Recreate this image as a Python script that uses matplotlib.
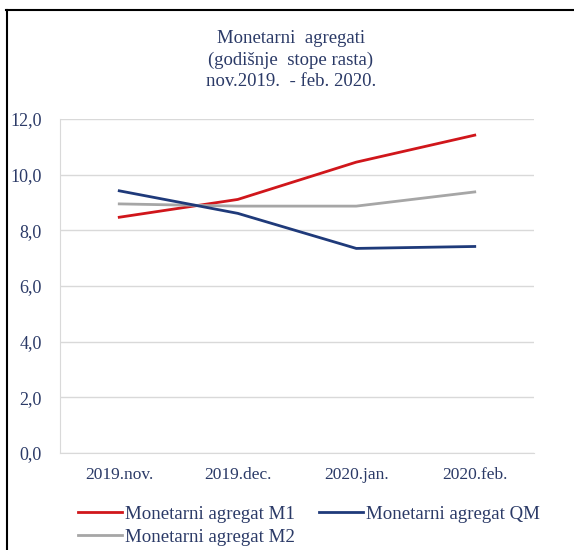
import matplotlib
matplotlib.use("Agg")
import matplotlib.pyplot as plt
from matplotlib.lines import Line2D

categories = ["2019.nov.", "2019.dec.", "2020.jan.", "2020.feb."]
m1 = [8.47, 9.11, 10.45, 11.42]
qm = [9.42, 8.61, 7.35, 7.42]
m2 = [8.95, 8.87, 8.87, 9.38]
yticks = [0, 2, 4, 6, 8, 10, 12]
ytick_labels = ["0,0", "2,0", "4,0", "6,0", "8,0", "10,0", "12,0"]

W, H = 574, 550
fig = plt.figure(figsize=(W / 100, H / 100), dpi=100)
plt.rcParams['font.family'] = ['Liberation Serif', 'DejaVu Serif']
txt = "#2B3A67"

left, right, top, bottom = 60, 534, 119, 453
ax = fig.add_axes([left / W, 1 - bottom / H, (right - left) / W, (bottom - top) / H])

x = list(range(len(categories)))
ax.plot(x, m1, color="#D0161B", lw=2, label="Monetarni agregat M1")
ax.plot(x, m2, color="#A6A6A6", lw=2, label="Monetarni agregat M2")
ax.plot(x, qm, color="#1F3A7A", lw=2, label="Monetarni agregat QM")

ax.set_xlim(-0.5, 3.5)
ax.set_ylim(0, 12)
ax.set_yticks(yticks)
ax.set_yticklabels(ytick_labels)
ax.set_xticks(x)
ax.set_xticklabels(categories)
ax.grid(axis="y", color="#D9D9D9", lw=1)
ax.set_axisbelow(True)
for s in ["top", "right"]:
    ax.spines[s].set_visible(False)
ax.spines["left"].set_color("#D9D9D9")
ax.spines["bottom"].set_color("#D9D9D9")
ax.tick_params(length=0, colors=txt)
ax.tick_params(axis="y", pad=13, labelsize=13)
ax.tick_params(axis="x", pad=10, labelsize=12.5)

fig.text(291 / W, 1 - 60 / H,
         "Monetarni  agregati\n(godišnje  stope rasta)\nnov.2019.  - feb. 2020.",
         ha="center", va="center", color=txt, fontsize=13.5, linespacing=1.3)

handles = [Line2D([], [], color="#D0161B", lw=2),
           Line2D([], [], color="#A6A6A6", lw=2),
           Line2D([], [], color="#1F3A7A", lw=2)]
labels = ["Monetarni agregat M1", "Monetarni agregat M2", "Monetarni agregat QM"]
leg = fig.legend(handles, labels, ncol=2, loc="upper left",
                 bbox_to_anchor=(69 / W, 1 - 496 / H), frameon=False,
                 fontsize=13.6, handlelength=2.3, handletextpad=0.15,
                 columnspacing=1.3, labelspacing=0.3, borderpad=0)
for t in leg.get_texts():
    t.set_color(txt)

# outer border lines (top and left)
fig.add_artist(Line2D([6 / W, 1], [1 - 10 / H, 1 - 10 / H], color="black", lw=1.5,
                      transform=fig.transFigure))
fig.add_artist(Line2D([6.5 / W, 6.5 / W], [0, 1 - 10 / H], color="black", lw=1.5,
                      transform=fig.transFigure))

fig.savefig("out.png", dpi=100)
